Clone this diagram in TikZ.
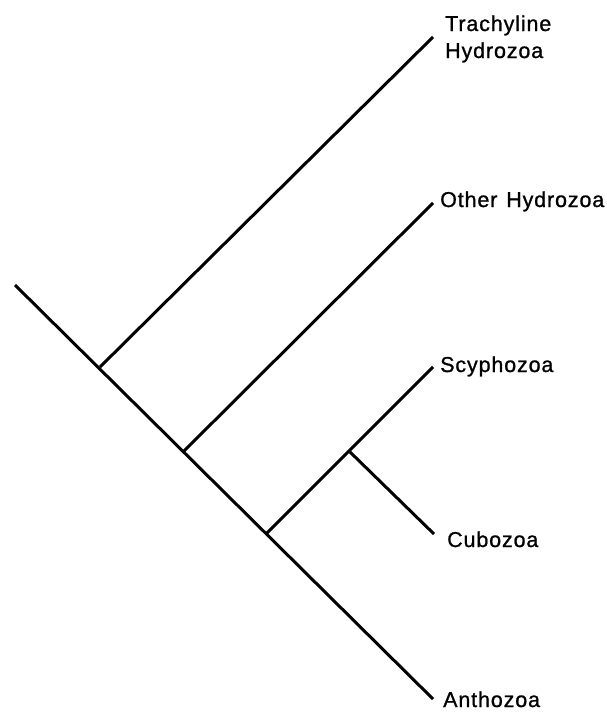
\documentclass[tikz,border=0pt]{standalone}
\usepackage{fontspec}
\setmainfont{Liberation Sans}[LetterSpace=4,FakeBold=1]
\begin{document}
\begin{tikzpicture}[x=1pt,y=-1pt,
  branch/.style={line width=3pt,line cap=butt},
  taxon/.style={anchor=base west,inner sep=0pt,font=\fontsize{21.5}{25}\selectfont,align=left}]
\useasboundingbox (0,0) rectangle (606,712);
% nodes on the tree
\coordinate (root) at (15,285);
\coordinate (n1) at (100,367);
\coordinate (n2) at (184,451);
\coordinate (n3) at (267,533);
\coordinate (n4) at (350,452);
\coordinate (tTra) at (433,37);
\coordinate (tOth) at (433,203);
\coordinate (tScy) at (433,367);
\coordinate (tCub) at (434,534);
\coordinate (tAnt) at (433,699);
% branches
\draw[branch] (root) -- (tAnt);
\draw[branch] (n1) -- (tTra);
\draw[branch] (n2) -- (tOth);
\draw[branch] (n3) -- (tScy);
\draw[branch] (n4) -- (tCub);
% labels
\node[taxon] (lTra) at (445,31) {Trachyline};
\node[taxon] (lTra2) at (445,58) {Hydrozoa};
\node[taxon] (lOth) at (440,207) {Other\hspace{2pt} Hydrozoa};
\node[taxon] (lScy) at (440,372) {Scyphozoa};
\node[taxon] (lCub) at (447,547) {Cubozoa};
\node[taxon] (lAnt) at (443,707) {Anthozoa};
\end{tikzpicture}
\end{document}
